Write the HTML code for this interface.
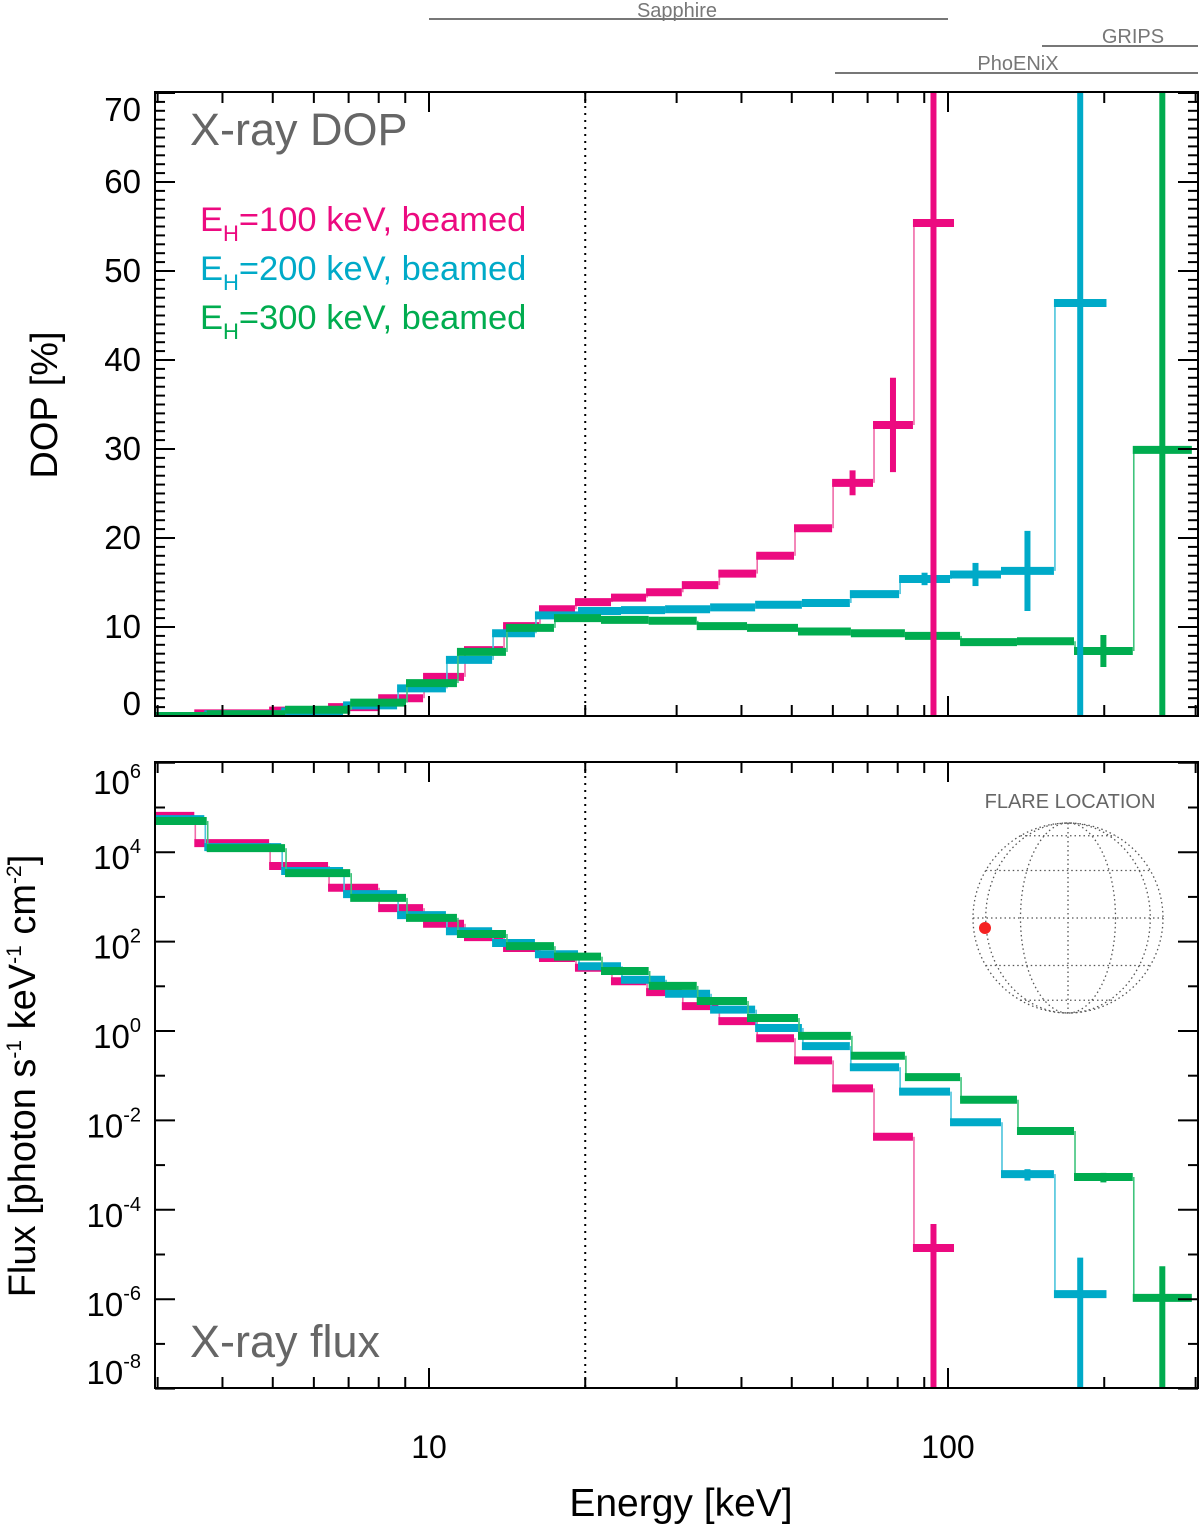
<!DOCTYPE html>
<html><head><meta charset="utf-8">
<style>
html,body{margin:0;padding:0;background:#fff;overflow:hidden;width:1200px;height:1526px;}
svg{display:block;font-family:"Liberation Sans",Arial,sans-serif;}
</style></head>
<body>
<svg id="chart" width="1200" height="1526" viewBox="0 0 1200 1526" xmlns="http://www.w3.org/2000/svg">
<defs>
<clipPath id="clipTop"><rect x="155" y="92" width="1043" height="624"/></clipPath>
<clipPath id="clipBot"><rect x="155" y="762" width="1043" height="626"/></clipPath>
</defs>
<g id="instr" stroke="#777" stroke-width="2" fill="#777" font-size="20">
  <line x1="429" y1="19" x2="948" y2="19"/>
  <text x="677" y="17" text-anchor="middle" stroke="none">Sapphire</text>
  <line x1="1042" y1="46" x2="1198" y2="46"/>
  <text x="1133" y="43" text-anchor="middle" stroke="none">GRIPS</text>
  <line x1="835" y1="73" x2="1198" y2="73"/>
  <text x="1018" y="70" text-anchor="middle" stroke="none">PhoENiX</text>
</g>
<g id="topPanel"></g>
<g id="botPanel"></g>
<g id="axes"></g>
<text x="190" y="145" font-size="45" fill="#666">X-ray DOP</text>
<text x="190" y="1357" font-size="45" fill="#666">X-ray flux</text>
<g font-size="34.5">
  <text x="200" y="231" fill="#ec0a80">E<tspan font-size="22" dy="10">H</tspan><tspan dy="-10">=100 keV, beamed</tspan></text>
  <text x="200" y="280" fill="#00aac8">E<tspan font-size="22" dy="10">H</tspan><tspan dy="-10">=200 keV, beamed</tspan></text>
  <text x="200" y="329" fill="#00ac4f">E<tspan font-size="22" dy="10">H</tspan><tspan dy="-10">=300 keV, beamed</tspan></text>
</g>
<text transform="translate(57,405) rotate(-90)" text-anchor="middle" font-size="38">DOP [%]</text>
<text transform="translate(35,1076) rotate(-90)" text-anchor="middle" font-size="38">Flux [photon s<tspan font-size="21" dy="-14">-1</tspan><tspan dy="14"> keV</tspan><tspan font-size="21" dy="-14">-1</tspan><tspan dy="14"> cm</tspan><tspan font-size="21" dy="-14">-2</tspan><tspan dy="14">]</tspan></text>
<text x="681" y="1516" text-anchor="middle" font-size="39">Energy [keV]</text>
<g id="globe">
  <text x="1070" y="808" text-anchor="middle" font-size="20" fill="#666">FLARE LOCATION</text>
</g>
</svg>
<script>
// ---------- data ----------
var magEdges = [2.97,3.53,4.92,6.39,7.98,9.74,11.68,13.89,16.29,19.11,22.42,26.2,30.7,36.1,42.7,50.5,59.8,71.7,85.6,102.7];
var magDop = [0,0.3,0.6,1.0,2.0,4.4,7.4,10.1,12.0,12.8,13.3,13.9,14.7,16.0,18.0,21.1,26.2,32.7,55.4];
var magDopErr = [0,0,0,0,0,0,0,0,0,0,0,0,0,0,0,0.4,1.4,5.3,200];
var magFlux = [6.5e4,1.6e4,4.9e3,1.6e3,5.6e2,2.5e2,1.26e2,72,43,26,13,7.4,3.6,1.66,0.69,0.22,0.052,4.3e-3,1.4e-5];
var magFluxErr = [0,0,0,0,0,0,0,0,0,0,0,0,0,0,0,0,0,0,3.4e-5];

var cyaEdges = [2.97,3.69,5.19,6.83,8.68,10.78,13.23,16.0,19.37,23.44,28.5,34.8,42.5,52.3,64.7,80.5,100.9,126.5,160,202];
var cyaDop = [0,0.2,0.5,1.2,3.1,6.3,9.3,11.3,11.8,11.9,12.0,12.2,12.5,12.7,13.7,15.4,15.9,16.3,46.4];
var cyaDopErr = [0,0,0,0,0,0,0,0,0,0,0,0,0,0,0,0.7,1.3,4.5,200];
var cyaFlux = [5.5e4,1.3e4,3.8e3,1.15e3,3.9e2,1.7e2,93,52,28,14,6.8,3.0,1.17,0.46,0.155,0.044,9.1e-3,6.3e-4,1.3e-6];
var cyaFluxErr = [0,0,0,0,0,0,0,0,0,0,0,0,0,0,0,0,0,1.8e-4,7.2e-6];

var grnEdges = [2.97,3.73,5.28,7.05,9.03,11.32,14.07,17.41,21.45,26.5,32.8,41.0,51.4,65.0,82.6,105.5,135.8,174.9,227,295];
var grnDop = [0,0.2,0.7,1.5,3.7,7.2,9.9,11.0,10.8,10.7,10.1,9.9,9.5,9.3,9.0,8.3,8.4,7.3,29.9];
var grnDopErr = [0,0,0,0,0,0,0,0,0,0,0,0,0,0,0,0,0.3,1.8,200];
var grnFlux = [5.0e4,1.23e4,3.4e3,9.5e2,3.4e2,1.48e2,79,46,22,10.2,4.7,1.95,0.78,0.28,0.093,0.029,5.8e-3,5.4e-4,1.07e-6];
var grnFluxErr = [0,0,0,0,0,0,0,0,0,0,0,0,0,0,0,0,0,1.3e-4,4.4e-6];

var dopTicks = [0,10,20,30,40,50,60,70];
var fluxExps = [6,4,2,0,-2,-4,-6,-8];
var xMajor = [10,100];
var xMinor = [3,4,5,6,7,8,9,20,30,40,50,60,70,80,90,200,300];

// ---------- axis functions ----------
var L = 155, R = 1198, TT = 92, TB = 716, BT = 762, BB = 1388;
function xs(e){ return 429 + 519*(Math.log10(e)-1); }
function yTop(d){ return 716 - 8.9*d; }
function yBot(f){ return 1031 - 44.7*Math.log10(Math.max(f,1e-12)); }

var NS = "http://www.w3.org/2000/svg";
function mk(tag, attrs, parent){
  var el = document.createElementNS(NS, tag);
  for (var k in attrs) el.setAttribute(k, attrs[k]);
  parent.appendChild(el);
  return el;
}
var topP = document.getElementById('topPanel');
var botP = document.getElementById('botPanel');
var axes = document.getElementById('axes');

var gTop = mk('g', {'clip-path':'url(#clipTop)'}, topP);
var gBot = mk('g', {'clip-path':'url(#clipBot)'}, botP);

[[TT,TB,gTop],[BT,BB,gBot]].forEach(function(p){
  var l = mk('line', {x1:xs(20), x2:xs(20), y1:p[0], y2:p[1], stroke:'#000', 'stroke-width':2, 'stroke-dasharray':'2,5'}, p[2]);
  
  
});

var series = [
  {name:'100kev', col:'#ec0a80', lite:'#f06aa8', edges:magEdges, dop:magDop, dopErr:magDopErr, flux:magFlux, fluxErr:magFluxErr},
  {name:'200kev', col:'#00aac8', lite:'#4cc4dc', edges:cyaEdges, dop:cyaDop, dopErr:cyaDopErr, flux:cyaFlux, fluxErr:cyaFluxErr},
  {name:'300kev', col:'#00ac4f', lite:'#40c47c', edges:grnEdges, dop:grnDop, dopErr:grnDopErr, flux:grnFlux, fluxErr:grnFluxErr}
];

function drawSteps(s, vals, yf, parent, kind){
  var g = mk('g', {}, parent);
  
  
  for (var i=0;i<vals.length;i++){
    var x0 = xs(s.edges[i]), x1 = xs(s.edges[i+1]), y = yf(vals[i]);
    if (i < vals.length-1){
      var c = mk('line', {x1:x1+1, x2:x1+1, y1:y, y2:yf(vals[i+1]), stroke:s.lite, 'stroke-width':1.6}, g);
      
      
    }
    var b = mk('line', {x1:x0, x2:x1, y1:y, y2:y, stroke:s.col, 'stroke-width':8}, g);
    
    
  }
}
function drawErr(s, vals, errs, yf, parent, kind, logMode, yMin, yMax){
  for (var i=0;i<vals.length;i++){
    if (!errs[i]) continue;
    var xc = xs(Math.sqrt(s.edges[i]*s.edges[i+1]));
    var hi = vals[i]+errs[i], lo = vals[i]-errs[i];
    var y1 = Math.max(yf(hi), yMin - 5);
    var y2 = (logMode && lo<=0) ? yMax + 5 : Math.min(yf(lo), yMax + 5);
    var e = mk('line', {x1:xc, x2:xc, y1:y1, y2:y2, stroke:s.col, 'stroke-width':6}, parent);
    
    
  }
}
series.forEach(function(s){ drawSteps(s, s.dop, yTop, gTop, 'dop'); drawSteps(s, s.flux, yBot, gBot, 'flux'); });
series.forEach(function(s){ drawErr(s, s.dop, s.dopErr, yTop, gTop, 'dop', false, TT, TB); drawErr(s, s.flux, s.fluxErr, yBot, gBot, 'flux', true, BT, BB); });

[[TT,TB],[BT,BB]].forEach(function(p){
  var r = mk('rect', {x:L, y:p[0], width:R-L, height:p[1]-p[0], fill:'none', stroke:'#000', 'stroke-width':2}, axes);
  
  
});
[[TT,TB],[BT,BB]].forEach(function(p){
  xMajor.forEach(function(v){
    mk('line', {x1:xs(v), x2:xs(v), y1:p[1], y2:p[1]-20, stroke:'#000','stroke-width':2}, axes);
    mk('line', {x1:xs(v), x2:xs(v), y1:p[0], y2:p[0]+20, stroke:'#000','stroke-width':2}, axes);
  });
  xMinor.forEach(function(v){
    mk('line', {x1:xs(v), x2:xs(v), y1:p[1], y2:p[1]-11, stroke:'#000','stroke-width':2}, axes);
    mk('line', {x1:xs(v), x2:xs(v), y1:p[0], y2:p[0]+11, stroke:'#000','stroke-width':2}, axes);
  });
});
xMajor.forEach(function(v){
  var t = mk('text', {x:xs(v), y:1458, 'text-anchor':'middle', 'font-size':32}, axes);
  t.textContent = String(v);
  
  
});
for (var d=0; d<=70; d++){
  var len = (d%10===0) ? 20 : 10;
  mk('line', {x1:L, x2:L+len, y1:yTop(d), y2:yTop(d), stroke:'#000','stroke-width':2}, axes);
  mk('line', {x1:R, x2:R-len, y1:yTop(d), y2:yTop(d), stroke:'#000','stroke-width':2}, axes);
}
dopTicks.forEach(function(v){
  var cy = Math.min(Math.max(yTop(v), 110), 704);
  var t = mk('text', {x:141, y:cy+11, 'text-anchor':'end', 'font-size':33}, axes);
  t.textContent = String(v);
  
  
});
for (var e=-8; e<=6; e++){
  var len2 = (e%2===0) ? 20 : 10;
  var yy = yBot(Math.pow(10,e));
  mk('line', {x1:L, x2:L+len2, y1:yy, y2:yy, stroke:'#000','stroke-width':2}, axes);
  mk('line', {x1:R, x2:R-len2, y1:yy, y2:yy, stroke:'#000','stroke-width':2}, axes);
}
fluxExps.forEach(function(v){
  var cy = Math.min(Math.max(yBot(Math.pow(10,v))+5, 782), 1372);
  var t = mk('text', {x:141, y:cy+12, 'text-anchor':'end', 'font-size':33}, axes);
  
  
  var a = mk('tspan', {}, t); a.textContent = '10';
  var b = mk('tspan', {dy:-16, 'font-size':20}, t); b.textContent = String(v);
});

var globe = document.getElementById('globe');
var gcx = 1068, gcy = 918, gr = 95;
var gst = {fill:'none', stroke:'#555', 'stroke-width':1.3, 'stroke-dasharray':'1.5,3'};
function ga(o){ var r={}; for (var k in gst) r[k]=gst[k]; for (var k2 in o) r[k2]=o[k2]; return r; }
mk('circle', ga({cx:gcx, cy:gcy, r:gr}), globe);
[0,30,60].forEach(function(lon){
  var rx = gr*Math.sin(lon*Math.PI/180);
  if (lon===0) mk('line', ga({x1:gcx, x2:gcx, y1:gcy-gr, y2:gcy+gr}), globe);
  else mk('ellipse', ga({cx:gcx, cy:gcy, rx:rx, ry:gr}), globe);
});
[-60,-30,0,30,60].forEach(function(lat){
  var yy = gcy + gr*Math.sin(lat*Math.PI/180), hw = gr*Math.cos(lat*Math.PI/180);
  mk('line', ga({x1:gcx-hw, x2:gcx+hw, y1:yy, y2:yy}), globe);
});
var dot = mk('circle', {cx:985, cy:928, r:6, fill:'#f52222'}, globe);


</script>
</body></html>
